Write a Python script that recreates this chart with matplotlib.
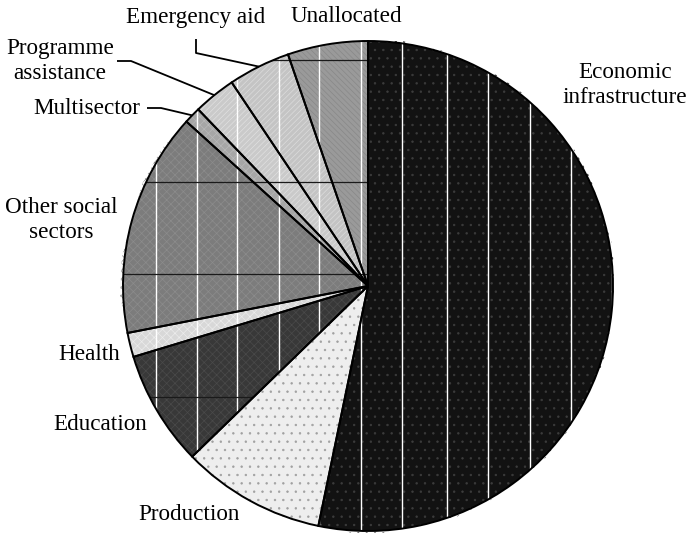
import numpy as np
import matplotlib
matplotlib.use("Agg")
import matplotlib.pyplot as plt

# Share of aid by sector (percent), clockwise from 12 o'clock
sectors = ["Economic\ninfrastructure", "Production", "Education", "Health",
           "Other social\nsectors", "Multisector", "Programme\nassistance",
           "Emergency aid", "Unallocated"]
shares = [53.3, 9.5, 7.6, 1.6, 14.8, 1.1, 2.8, 4.1, 5.3]

fills = ["#121212", "#eeeeee", "#383838", "#d8d8d8", "#7c7c7c",
         "#a6a6a6", "#cacaca", "#c4c4c4", "#9a9a9a"]
hatches = ["..", "..", "xxxx", "xxxx", "xxxx", "xxxx", "//////", "//////", "\\\\\\\\\\\\"]
hatch_cols = ["#3c3c3c", "#a0a0a0", "#4a4a4a", "#ececec", "#8c8c8c",
              "#b8b8b8", "#e0e0e0", "#dcdcdc", "#888888"]

W, H = 693, 533
CX, CY, R = 368, 286, 245

plt.rcParams["font.family"] = ["Liberation Serif", "DejaVu Serif"]
plt.rcParams["hatch.linewidth"] = 0.5

fig = plt.figure(figsize=(W / 100, H / 100), dpi=100)
ax = fig.add_axes([0, 0, 1, 1])


def py(y):
    # pixel row -> data y (y axis points up)
    return H - y


wedges, _ = ax.pie(shares, startangle=90, counterclock=False,
                   center=(CX, py(CY)), radius=R, colors=fills,
                   wedgeprops=dict(edgecolor="none", linewidth=0),
                   frame=True)
# texture overlay
for w, h, hc in zip(wedges, hatches, hatch_cols):
    ov = plt.Polygon(w.get_path().vertices, closed=True, facecolor="none",
                     edgecolor=hc, hatch=h, linewidth=0, zorder=2)
    ax.add_patch(ov)

# picture-fill stripes seen in the original
vlines = [155.7, 196.7, 237.3, 278.7, 319.3, 360.7, 401.7, 447.3, 488.3, 529.7, 570.7, 611.7]
hlines = [60, 182, 274, 397]
for i, w in enumerate(wedges):
    if i == 1:
        continue
    for x in vlines:
        ln, = ax.plot([x, x], [0, H], color="white", lw=1.0, zorder=3)
        ln.set_clip_path(w)
    if i not in (0, 3):
        for y in hlines:
            ln, = ax.plot([0, W], [py(y), py(y)], color="#1a1a1a", lw=0.9, zorder=3)
            ln.set_clip_path(w)

# outlines on top
outline, _ = ax.pie(shares, startangle=90, counterclock=False,
                    center=(CX, py(CY)), radius=R,
                    wedgeprops=dict(facecolor="none", edgecolor="black",
                                    linewidth=1.4, zorder=4),
                    frame=True)


def edge_point(i):
    w = wedges[i]
    a = np.deg2rad((w.theta1 + w.theta2) / 2)
    return CX + R * np.cos(a), py(CY) + R * np.sin(a)


# leader lines
leaders = {7: [(196, 39), (196, 53)], 6: [(117, 61), (131, 61)], 5: [(147, 108), (161, 108)]}
for i, pts in leaders.items():
    ex, ey = edge_point(i)
    xs = [p[0] for p in pts] + [ex]
    ys = [py(p[1]) for p in pts] + [ey]
    ax.plot(xs, ys, color="black", lw=1.3, zorder=5, solid_capstyle="butt")

label_pos = [(625, 85), (189, 515), (100, 425), (89, 355), (61, 220),
             (87, 108), (60, 61), (196, 17), (346, 17)]
for name, (x, y) in zip(sectors, label_pos):
    ax.text(x, py(y), name, ha="center", va="center", fontsize=16.7,
            linespacing=1.3, color="black")

ax.set_xlim(0, W)
ax.set_ylim(0, H)
ax.set_aspect("equal")
ax.axis("off")

fig.savefig("out.png", dpi=100)
